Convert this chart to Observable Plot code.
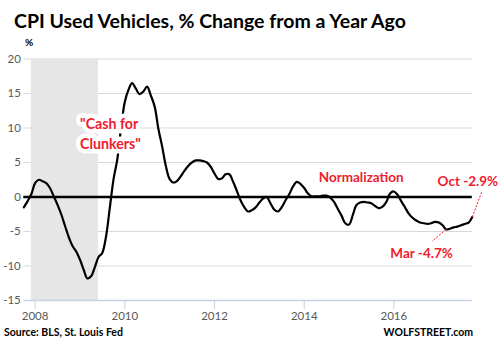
<!DOCTYPE html>
<html>
<head>
<meta charset="utf-8">
<script src="https://cdn.jsdelivr.net/npm/d3@7"></script>
<script src="https://cdn.jsdelivr.net/npm/@observablehq/plot@0.6"></script>
<style>
  html, body { margin: 0; padding: 0; background: #fff; }
  #wrap { position: relative; width: 502px; height: 353px; font-family: Lato, "Open Sans", sans-serif; }
  #wrap svg { position: absolute; left: 0; top: 0; }
  .t { position: absolute; white-space: nowrap; font-weight: bold; color: #000; line-height: 1; }
  #title { left: 14px; top: 11px; font-size: 19.5px; }
  #unit { left: 25px; top: 37px; font-size: 10px; }
  #source { left: 4px; top: 327px; font-size: 10.5px; }
  #brand { right: 29px; top: 327px; font-size: 10.5px; }
</style>
</head>
<body>
<div id="wrap">
  <div class="t" id="title">CPI Used Vehicles, % Change from a Year Ago</div>
  <div class="t" id="unit">%</div>
  <div class="t" id="source">Source: BLS, St. Louis Fed</div>
  <div class="t" id="brand">WOLFSTREET.com</div>
</div>
<script>
// Monthly year-over-year % change, CPI used cars & trucks
const startMonth = "2007-10-01";
const v2007 = [-1.5, -0.6, 0.4];                                            // Oct–Dec
const v2008 = [2.0, 2.5, 2.3, 2.0, 1.3, 0.1, -1.1, -2.5, -4.2, -5.8, -7.1, -7.9];
const v2009 = [-9.1, -10.6, -11.8, -11.5, -10.2, -8.7, -8.1, -5.7, -1.5, 2.6, 5.5, 10.0];
const v2010 = [13.8, 15.6, 16.5, 15.7, 14.9, 15.3, 16.0, 14.7, 13.1, 9.9, 7.3, 4.5];
const v2011 = [2.6, 2.1, 2.3, 3.0, 3.8, 4.5, 5.0, 5.3, 5.3, 5.2, 5.0, 4.4];
const v2012 = [3.4, 2.6, 2.7, 3.3, 3.3, 2.2, 0.9, -0.5, -1.5, -2.1, -1.9, -1.5];
const v2013 = [-0.8, -0.2, 0.0, -0.9, -1.8, -2.1, -1.5, -0.5, 0.4, 1.5, 2.2, 1.9];
const v2014 = [1.3, 0.5, 0.1, 0.1, 0.1, 0.2, 0.2, -0.1, -0.7, -1.7, -2.7, -3.8];
const v2015 = [-4.0, -2.6, -1.2, -0.8, -0.7, -0.8, -0.9, -1.3, -1.6, -1.4, -0.7, 0.5];
const v2016 = [0.8, 0.3, -0.6, -1.5, -2.4, -3.0, -3.4, -3.7, -3.8, -3.9, -3.8, -3.6];
const v2017 = [-3.7, -4.1, -4.7, -4.6, -4.4, -4.3, -4.1, -3.9, -3.7, -2.9];   // Jan–Oct

const xDomain = ["2007-10-01", "2017-10-01"];
const yTicks = [20, 15, 10, 5, 0, -5, -10, -15];
const xTickYears = ["2008", "2010", "2012", "2014", "2016"];
const recessions = [{start: "2007-12-01", end: "2009-06-01"}];

// annotations: text, anchor date, anchor value
const leftLabels = [
  {text: "\"Cash for\nClunkers\"", date: "2009-01-01", value: 9.3}
];
const centerLabels = [
  {text: "Normalization", date: "2015-04-10", value: 3.1},
  {text: "Oct -2.9%", date: "2017-08-26", value: 2.5},
  {text: "Mar -4.7%", date: "2016-08-14", value: -8.0}
];
const leaders = [
  {d1: "2017-03-01", v1: -4.7, d2: "2016-11-08", v2: -6.4},
  {d1: "2017-10-01", v1: -2.9, d2: "2017-12-20", v2: 0.9}
];

const values = [].concat(v2007, v2008, v2009, v2010, v2011, v2012, v2013, v2014, v2015, v2016, v2017);
const t0 = new Date(startMonth);
const series = values.map((v, i) => ({date: d3.utcMonth.offset(t0, i), value: v}));
const recs = recessions.map(r => ({start: new Date(r.start), end: new Date(r.end)}));
const toDate = arr => arr.map(l => ({...l, date: new Date(l.date)}));
const leads = leaders.map(l => ({...l, d1: new Date(l.d1), d2: new Date(l.d2)}));
const xTicks = xTickYears.map(y => new Date(y + "-01-01"));
const red = "#ee1c2e";
const font = "Lato, 'Open Sans', sans-serif";
const labelStyle = {x: "date", y: "value", text: "text", fill: red, fontWeight: "bold",
  fontSize: 13.5, lineHeight: 1.4, stroke: "white", strokeWidth: 9, fontFamily: font};

const chart = Plot.plot({
  width: 502,
  height: 353,
  marginLeft: 23.3,
  marginRight: 30.2,
  marginTop: 58.5,
  marginBottom: 53,
  x: {type: "utc", domain: xDomain.map(d => new Date(d))},
  y: {domain: [-15, 20]},
  style: {fontFamily: font, fontSize: "11.5px", color: "#595959", background: "transparent", overflow: "visible"},
  marks: [
    Plot.gridY(yTicks, {stroke: "#d9d9d9", strokeOpacity: 1, strokeWidth: 1}),
    Plot.rect(recs, {x1: "start", x2: "end", fill: "#e6e6e6"}),
    Plot.ruleY([d3.min(yTicks)], {stroke: "#c6d0e4", strokeWidth: 1.3}),
    Plot.axisY(yTicks, {tickSize: 0, tickPadding: 3, label: null, tickFormat: d => String(d), fill: "#595959"}),
    Plot.axisX(xTicks, {tickSize: 9, tickPadding: 2.5, label: null, stroke: "#c6d0e4", tickFormat: d3.utcFormat("%Y"), fill: "#595959"}),
    Plot.ruleY([0], {stroke: "#000", strokeWidth: 2.5}),
    Plot.line(series, {x: "date", y: "value", stroke: "#000", strokeWidth: 2.2, curve: "catmull-rom"}),
    Plot.link(leads, {x1: "d1", y1: "v1", x2: "d2", y2: "v2", stroke: red, strokeWidth: 1, strokeDasharray: "2,1.5"}),
    Plot.text(toDate(leftLabels), {...labelStyle, fontSize: 14.2, textAnchor: "start"}),
    Plot.text(toDate(centerLabels), {...labelStyle, textAnchor: "middle"})
  ]
});
document.getElementById("wrap").prepend(chart);
</script>
</body>
</html>
